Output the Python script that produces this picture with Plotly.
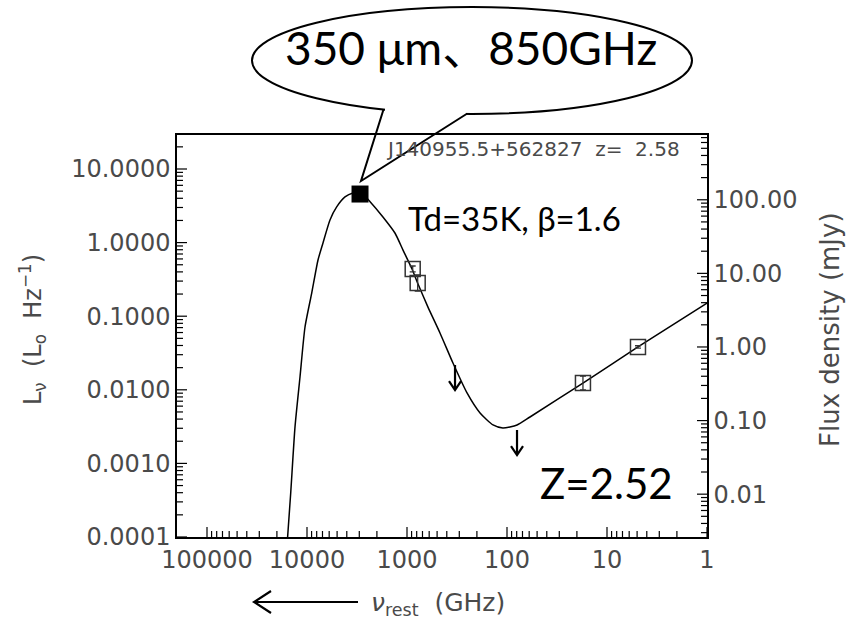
import plotly.graph_objects as go

# ---- SED model curve (rest frequency in GHz, luminosity density in L_sun/Hz)
nu_model = [15700, 14550, 13180, 11750, 10470, 8970, 7760, 6920, 5890, 5050,
            4170, 3470, 2880, 2340, 1740, 1320, 1096, 891, 776, 617,
            468, 347, 251, 186, 138, 110, 79.4, 58.9, 17.4, 4.90, 1.0]
L_model = [9.1e-5, 3.96e-4, 3.13e-3, 0.0149, 0.0713, 0.2065, 0.581, 0.989, 2.03, 3.05,
           4.17, 4.72, 4.80, 3.60, 2.23, 1.35, 0.792, 0.438, 0.274, 0.133,
           0.0592, 0.0231, 0.00906, 0.00484, 0.00333, 0.00303, 0.00333, 0.00427, 0.01236, 0.0382, 0.151]

# 350 micron detection (filled)
nu_350 = [2950]
L_350 = [4.57]

# other detections (open) with errors
nu_det = [877, 782, 17.4, 4.90]
L_det = [0.438, 0.283, 0.01236, 0.0382]
L_err_hi = [0.043, 0.081, 0.0030, 0.0015]
L_err_lo = [0.039, 0.063, 0.0024, 0.0014]

# upper limits
nu_lim = [331, 79.4]
L_lim = [0.0217, 0.00284]

# conversion L_nu -> observed flux density (mJy) at this redshift
log_flux_offset = 1.418

# axis ticks
x_tickvals = [1e5, 1e4, 1e3, 100, 10, 1]
x_ticktext = ["100000", "10000", "1000", "100", "10", "1"]
yl_tickvals = [10, 1, 0.1, 0.01, 0.001, 0.0001]
yl_ticktext = ["10.0000", "1.0000", "0.1000", "0.0100", "0.0010", "0.0001"]
yr_tickvals = [100, 10, 1, 0.1, 0.01]
yr_ticktext = ["100.00", "10.00", "1.00", "0.10", "0.01"]

X_RANGE = [5.30, 0.0]          # log10 GHz, reversed
YL_RANGE = [-4.0, 1.462]       # log10 L_sun/Hz
YR_RANGE = [YL_RANGE[0] + log_flux_offset, YL_RANGE[1] + log_flux_offset]

W, H = 852, 619
PL, PR, PT, PB = 177, 707, 135, 537  # plot-area edges in pixels
PW, PH = PR - PL, PB - PT
PX_PER_DEX_X = PW / (X_RANGE[0] - X_RANGE[1])


def px(x):
    return (x - PL) / PW


def py(y):
    return (PB - y) / PH


def minor_vals(log_lo, log_hi):
    out = []
    for k in range(int(log_lo) - 1, int(log_hi) + 2):
        for m in range(2, 10):
            v = m * 10.0 ** k
            if 10 ** log_lo <= v <= 10 ** log_hi:
                out.append(v)
    return out


IDL_FONT = "DejaVu Sans"
SLIDE_FONT = "Lato, 'Noto Sans CJK JP', sans-serif"
GRAY = "#4a4a4a"
MAJ, MIN = 10, 6  # tick lengths (px)

fig = go.Figure()

fig.add_trace(go.Scatter(
    x=nu_model, y=L_model, mode="lines", line=dict(color="black", width=1.5, shape="spline", smoothing=0.6),
    hoverinfo="skip", showlegend=False))

fig.add_trace(go.Scatter(
    x=nu_det, y=L_det, mode="markers",
    marker=dict(symbol="square-open", size=15, color="#333333", line=dict(width=1.5, color="#333333")),
    error_y=dict(type="data", symmetric=False, array=L_err_hi, arrayminus=L_err_lo,
                 color="#333333", thickness=1.3, width=3),
    hoverinfo="skip", showlegend=False))

fig.add_trace(go.Scatter(
    x=nu_350, y=L_350, mode="markers",
    marker=dict(symbol="square", size=17, color="black"),
    hoverinfo="skip", showlegend=False))

# inward tick marks on the two vertical axes, as short segments from the plot edges
x_left, x_right = 10 ** X_RANGE[0], 10 ** X_RANGE[1]


def edge_ticks(vals_len, x_edge, inward_sign):
    xs, ys = [], []
    for vals, ln in vals_len:
        for v in vals:
            xs += [x_edge, x_edge * 10 ** (inward_sign * ln / PX_PER_DEX_X), None]
            ys += [v, v, None]
    return xs, ys


lx, ly = edge_ticks(((yl_tickvals, MAJ), (minor_vals(*YL_RANGE), MIN)), x_left, -1)
fig.add_trace(go.Scatter(x=lx, y=ly, mode="lines", line=dict(color="black", width=1.2),
                         hoverinfo="skip", showlegend=False))
rx, ry = edge_ticks(((yr_tickvals, MAJ), (minor_vals(*YR_RANGE), MIN)), x_right, 1)
fig.add_trace(go.Scatter(x=rx, y=ry, yaxis="y2", mode="lines", line=dict(color="black", width=1.2),
                         hoverinfo="skip", showlegend=False))

shapes = []

# inward tick marks on the frequency axis (bottom and top)
yl_bot, yl_top = 10 ** YL_RANGE[0], 10 ** YL_RANGE[1]


def vtick(v, y_anchor, ln):
    return dict(type="line", xref="x", yref="y", x0=v, x1=v, ysizemode="pixel", yanchor=y_anchor,
                y0=0, y1=ln, line=dict(color="black", width=1.2), layer="above")


for vals, ln in ((x_tickvals, MAJ), (minor_vals(X_RANGE[1], X_RANGE[0]), MIN)):
    for v in vals:
        shapes.append(vtick(v, yl_bot, ln))
        shapes.append(vtick(v, yl_top, -ln))

# upper-limit arrows
for nu, L in zip(nu_lim, L_lim):
    shapes.append(dict(type="path", xref="x", yref="y", xsizemode="pixel", ysizemode="pixel",
                       xanchor=nu, yanchor=L,
                       path="M0,0 L0,-25 M-6,-16 L0,-25 L6,-16",
                       line=dict(color="black", width=2.2)))

# speech bubble
shapes.append(dict(type="circle", xref="paper", yref="paper",
                   x0=px(252), x1=px(692), y0=py(114), y1=py(7),
                   line=dict(color="black", width=2), fillcolor="white", layer="above"))
shapes.append(dict(type="path", xref="paper", yref="paper",
                   path=f"M{px(385)},{py(100)} L{px(466)},{py(100)} L{px(466)},{py(118)} L{px(385)},{py(113)} Z",
                   fillcolor="white", line=dict(width=0), layer="above"))
shapes.append(dict(type="path", xref="paper", yref="paper",
                   path=f"M{px(383.5)},{py(109.5)} L{px(361)},{py(181)} L{px(466.5)},{py(114)}",
                   line=dict(color="black", width=2), layer="above"))

# arrow next to the frequency label
shapes.append(dict(type="path", xref="paper", yref="paper",
                   path=f"M{px(358)},{py(602)} L{px(254)},{py(602)} M{px(271)},{py(591)} L{px(254)},{py(602)} L{px(271)},{py(613)}",
                   line=dict(color="black", width=2.2)))


def label(text, x, y, size, family, color="black", xanchor="center", angle=0):
    return dict(text=text, x=px(x), y=py(y), xref="paper", yref="paper",
                xanchor=xanchor, yanchor="middle", textangle=angle, showarrow=False,
                font=dict(family=family, size=size, color=color))


annotations = [
    label("350 μm、850GHz", 471, 48, 46, SLIDE_FONT),
    label("Td=35K, β=1.6", 406, 218, 33, SLIDE_FONT, xanchor="left"),
    label("Z=2.52", 538, 483, 42, SLIDE_FONT, xanchor="left"),
    label("J140955.5+562827  z=  2.58", 682, 149, 20, IDL_FONT, GRAY, xanchor="right"),
    label("L<sub>ν</sub>  (L<sub>o</sub>  Hz<sup>−1</sup>)", 32, 330, 24, IDL_FONT, GRAY, angle=-90),
    label("Flux density (mJy)", 830, 330, 26, IDL_FONT, GRAY, angle=-90),
    label("<i>ν</i><sub>rest</sub>  (GHz)", 369, 604, 25, IDL_FONT, GRAY, xanchor="left"),
]

tickfont = dict(family=IDL_FONT, size=24, color=GRAY)
common = dict(ticks="", showline=True, linecolor="black", linewidth=1.5,
              showgrid=False, zeroline=False, tickfont=tickfont)

fig.update_layout(
    width=W, height=H,
    margin=dict(l=PL, r=W - PR, t=PT, b=H - PB, pad=0),
    paper_bgcolor="white", plot_bgcolor="white",
    showlegend=False,
    shapes=shapes, annotations=annotations,
    xaxis=dict(type="log", range=X_RANGE, tickmode="array", tickvals=x_tickvals, ticktext=x_ticktext,
               mirror=True, **common),
    yaxis=dict(type="log", range=YL_RANGE, tickmode="array", tickvals=yl_tickvals, ticktext=yl_ticktext,
               **common),
    yaxis2=dict(type="log", overlaying="y", side="right", range=YR_RANGE,
                tickmode="array", tickvals=yr_tickvals, ticktext=yr_ticktext, **common),
)

fig.write_html("out.html")
